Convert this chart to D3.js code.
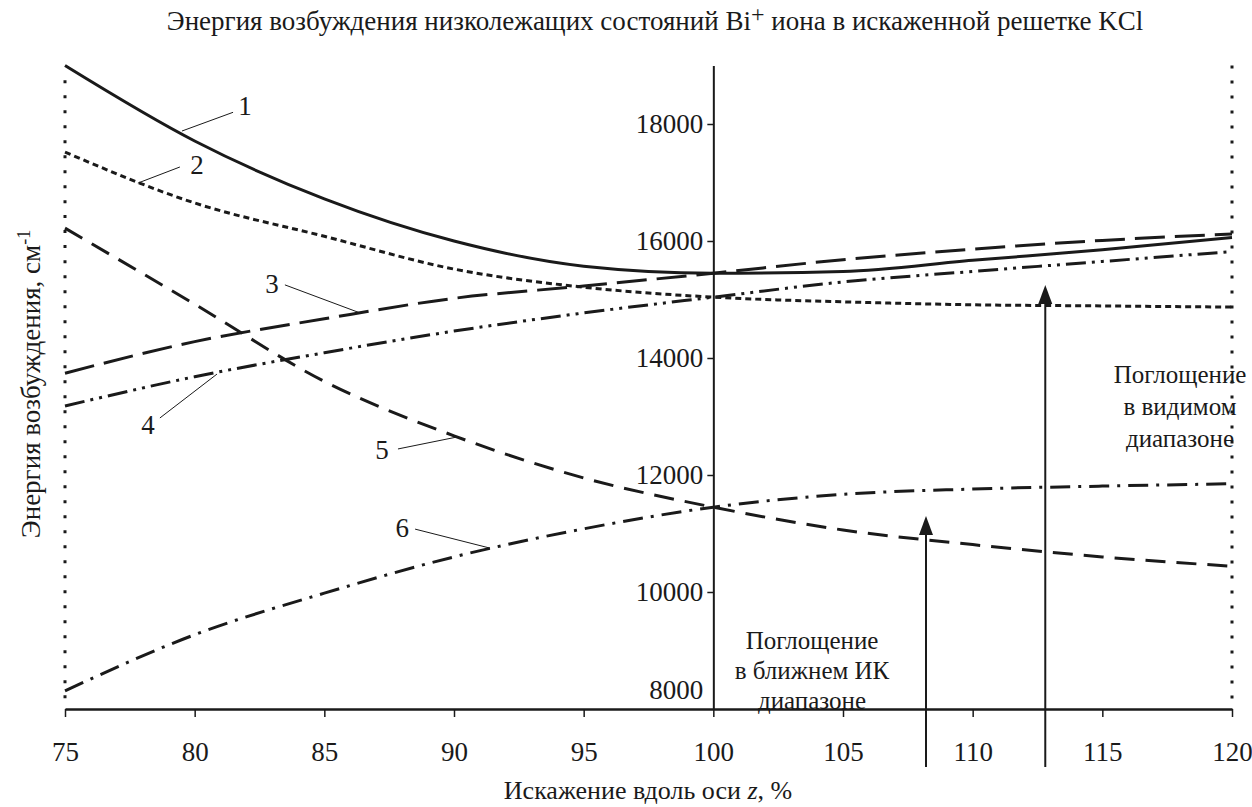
<!DOCTYPE html>
<html>
<head>
<meta charset="utf-8">
<script src="https://cdn.jsdelivr.net/npm/d3@7"></script>
<style>
  body { margin: 0; background: #fff; }
  text { font-family: "Liberation Serif", "Times New Roman", serif; fill: #1a1a1a; }
  .axis path, .axis line { stroke: #1a1a1a; }
</style>
</head>
<body>
<div id="chart"></div>
<script>
// distortion along z, % (x) and excitation energy, cm-1 (y)
var zValues = [75, 80, 85, 90, 95, 100, 105, 110, 115, 120];
var curve1 = [19000, 17710, 16720, 16000, 15570, 15450, 15480, 15670, 15850, 16060];
var curve2 = [17520, 16650, 16080, 15520, 15210, 15040, 14960, 14910, 14890, 14870];
var curve3 = [13740, 14280, 14670, 15020, 15230, 15450, 15680, 15860, 16010, 16120];
var curve4 = [13180, 13680, 14090, 14460, 14770, 15040, 15300, 15480, 15650, 15820];
var curve5 = [16220, 14920, 13600, 12670, 11950, 11450, 11060, 10810, 10600, 10440];
var curve6 = [8310, 9270, 9980, 10600, 11080, 11450, 11670, 11760, 11810, 11850];

var xTicks = [75, 80, 85, 90, 95, 100, 105, 110, 115, 120];
var yTicks = [8000, 10000, 12000, 14000, 16000, 18000];

// curve numbers: text position, leader start, leader end (data units)
var curveNames = ["1", "2", "3", "4", "5", "6"];
var labelAt = [[81.94, 18310], [80.09, 17300], [82.98, 15280], [78.2, 12870], [87.22, 12430], [88.0, 11110]];
var leaderFrom = [[81.48, 18200], [79.43, 17265], [83.48, 15250], [78.66, 12975], [87.84, 12445], [88.5, 11075]];
var leaderTo = [[79.51, 17880], [77.81, 16990], [86.38, 14770], [80.86, 13725], [90.12, 12650], [91.39, 10750]];

// absorption arrows
var arrowZ = [108.2, 112.8];
var arrowTop = [11300, 15250];

(function() {
  var width = 1252, height = 807;
  var serif = "Liberation Serif, Times New Roman, serif";

  var svg = d3.select("#chart")
    .append("svg")
    .attr("width", width)
    .attr("height", height);

  var xPositionScale = d3.scaleLinear().domain([75, 120]).range([65, 1232]);
  var yPositionScale = d3.scaleLinear().domain([8000, 19000]).range([709, 65.5]);

  var series = [curve1, curve2, curve3, curve4, curve5, curve6];
  var dashes = [null, "6,4", "30,10", "20,6,3,6,3,6", "20,11", "20,8,3,8"];

  // dotted borders at 75 and 120
  svg.append("line")
    .attr("x1", xPositionScale(75)).attr("x2", xPositionScale(75))
    .attr("y1", yPositionScale(18750)).attr("y2", yPositionScale(8000))
    .attr("stroke", "#1a1a1a").attr("stroke-width", 3)
    .attr("stroke-dasharray", "3,12");
  svg.append("line")
    .attr("x1", xPositionScale(120)).attr("x2", xPositionScale(120))
    .attr("y1", yPositionScale(19000)).attr("y2", yPositionScale(8000))
    .attr("stroke", "#1a1a1a").attr("stroke-width", 3)
    .attr("stroke-dasharray", "3,12");

  // axes
  var xAxis = d3.axisBottom(xPositionScale)
    .tickValues(xTicks)
    .tickSize(8)
    .tickPadding(25)
    .tickSizeOuter(0);
  var xg = svg.append("g")
    .attr("class", "axis x-axis")
    .attr("transform", "translate(0," + yPositionScale(8000) + ")")
    .call(xAxis)
    .attr("font-family", serif)
    .attr("font-size", 27);
  xg.select(".domain").attr("stroke-width", 2.5);
  xg.selectAll(".tick line").attr("stroke-width", 1.5);

  var yAxis = d3.axisLeft(yPositionScale)
    .tickValues(yTicks)
    .tickSize(6)
    .tickPadding(4)
    .tickSizeOuter(0)
    .tickFormat(d3.format("d"));
  var yg = svg.append("g")
    .attr("class", "axis y-axis")
    .attr("transform", "translate(" + xPositionScale(100) + ",0)")
    .call(yAxis)
    .attr("font-family", serif)
    .attr("font-size", 27);
  yg.select(".domain").attr("stroke-width", 2);
  yg.selectAll(".tick line").attr("stroke-width", 1.5);
  yg.selectAll(".tick").filter(function(d) { return d === 8000; })
    .each(function() {
      d3.select(this).select("line").remove();
      d3.select(this).select("text").attr("y", -19);
    });

  // curves
  var line = d3.line().curve(d3.curveMonotoneX)
    .x(function(d, i) { return xPositionScale(zValues[i]); })
    .y(function(d) { return yPositionScale(d); });

  series.forEach(function(values, i) {
    svg.append("path")
      .datum(values)
      .attr("d", line)
      .attr("fill", "none")
      .attr("stroke", "#1a1a1a")
      .attr("stroke-width", 3)
      .attr("stroke-dasharray", dashes[i]);
  });

  // curve numbers and leaders
  curveNames.forEach(function(name, i) {
    svg.append("line")
      .attr("x1", xPositionScale(leaderFrom[i][0])).attr("y1", yPositionScale(leaderFrom[i][1]))
      .attr("x2", xPositionScale(leaderTo[i][0])).attr("y2", yPositionScale(leaderTo[i][1]))
      .attr("stroke", "#1a1a1a").attr("stroke-width", 1);
    svg.append("text")
      .attr("x", xPositionScale(labelAt[i][0]))
      .attr("y", yPositionScale(labelAt[i][1]))
      .attr("dy", "0.35em")
      .attr("text-anchor", "middle")
      .attr("font-size", 27)
      .text(name);
  });

  // arrows
  arrowZ.forEach(function(z, i) {
    var ax = xPositionScale(z), top = yPositionScale(arrowTop[i]);
    svg.append("line")
      .attr("x1", ax).attr("x2", ax)
      .attr("y1", top + 16).attr("y2", yPositionScale(8000) + 58)
      .attr("stroke", "#1a1a1a").attr("stroke-width", 2);
    svg.append("path")
      .attr("d", "M" + ax + "," + top + "L" + (ax - 7) + "," + (top + 19) + "L" + (ax + 7) + "," + (top + 19) + "Z")
      .attr("fill", "#1a1a1a");
  });

  // absorption notes
  var nearIR = ["Поглощение", "в ближнем ИК", "диапазоне"];
  var visible = ["Поглощение", "в видимом", "диапазоне"];
  svg.append("text")
    .attr("x", 812).attr("y", 649)
    .attr("text-anchor", "middle").attr("font-size", 25)
    .selectAll("tspan").data(nearIR).enter().append("tspan")
    .attr("x", 812).attr("dy", function(d, i) { return i ? 30 : 0; })
    .text(function(d) { return d; });
  svg.append("text")
    .attr("x", 1180).attr("y", 383)
    .attr("text-anchor", "middle").attr("font-size", 25)
    .selectAll("tspan").data(visible).enter().append("tspan")
    .attr("x", 1180).attr("dy", function(d, i) { return i ? 32 : 0; })
    .text(function(d) { return d; });

  // title
  var title = svg.append("text")
    .attr("x", 655).attr("y", 30)
    .attr("text-anchor", "middle")
    .attr("font-size", 27);
  title.append("tspan").text("Энергия возбуждения низколежащих состояний Bi");
  title.append("tspan").attr("dy", -8).attr("font-size", 24).text("+");
  title.append("tspan").attr("dy", 8).text(" иона в искаженной решетке KCl");

  // axis titles
  var xLabel = svg.append("text")
    .attr("x", 648).attr("y", 799)
    .attr("text-anchor", "middle")
    .attr("font-size", 26);
  xLabel.append("tspan").text("Искажение вдоль оси ");
  xLabel.append("tspan").attr("font-style", "italic").text("z");
  xLabel.append("tspan").text(", %");

  var yLabel = svg.append("text")
    .attr("transform", "translate(40,384) rotate(-90)")
    .attr("text-anchor", "middle")
    .attr("font-size", 27);
  yLabel.append("tspan").text("Энергия возбуждения, см");
  yLabel.append("tspan").attr("dy", -10).attr("font-size", 18).text("-1");
})();
</script>
</body>
</html>
